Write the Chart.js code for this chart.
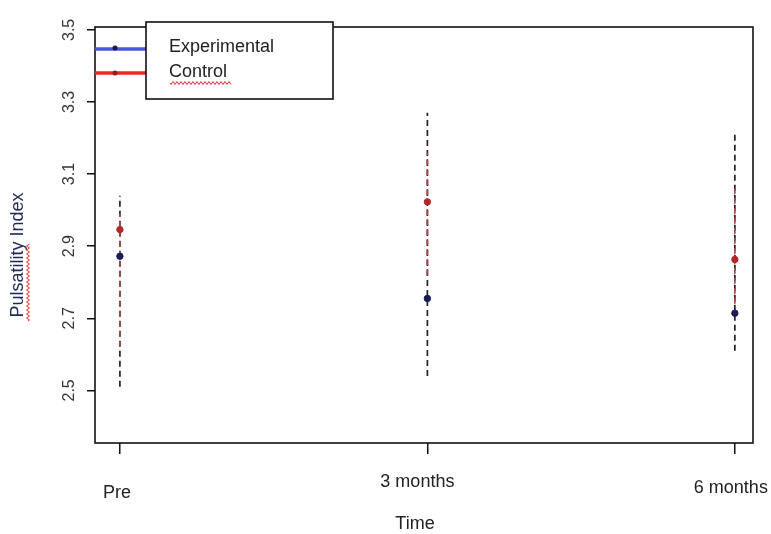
<!DOCTYPE html>
<html lang="en">
  <head>
    <meta charset="UTF-8" />
    <title>Pulsatility Index over time</title>
    <style>
      body { margin: 0; background: #fff; }
    </style>
  </head>
  <body>
    <script src="https://cdn.jsdelivr.net/npm/chart.js"></script>
    <canvas id="myChart" width="771" height="534"></canvas>
    <script>
      const timepoints = ["Pre", "3 months", "6 months"];
      const yTicks = [2.5, 2.7, 2.9, 3.1, 3.3, 3.5];

      const experimentalMean = [2.872, 2.755, 2.714];
      const experimentalLow = [2.51, 2.54, 2.61];
      const experimentalHigh = [3.04, 3.27, 3.215];

      const controlMean = [2.946, 3.023, 2.863];
      const controlLow = [2.62, 2.82, 2.74];
      const controlHigh = [2.99, 3.16, 3.06];

      const errorBars = (low, high, color, order) =>
        timepoints.map((t, i) => ({
          type: "scatter",
          label: "err",
          data: [{ x: i, y: low[i] }, { x: i, y: high[i] }],
          showLine: true,
          borderColor: color,
          borderWidth: 1.7,
          borderDash: [6, 4],
          pointRadius: 0,
          order: order,
        }));

      // red spell-check squiggle, as in the source image
      function squiggle(ctx, x0, x1, y) {
        ctx.save();
        ctx.strokeStyle = "#e03030";
        ctx.lineWidth = 1;
        ctx.beginPath();
        ctx.moveTo(x0, y);
        for (let x = x0; x < x1; x += 2) {
          ctx.lineTo(x + 1, y + ((x - x0) % 4 === 0 ? 1.5 : -1.5));
        }
        ctx.stroke();
        ctx.restore();
      }

      // R style frame, hand placed axis text and the legend box
      const frame = {
        id: "frame",
        afterDraw(chart) {
          const ctx = chart.ctx;
          const a = chart.chartArea;
          const x = chart.scales.x;
          const y = chart.scales.y;
          ctx.save();
          ctx.strokeStyle = "#111";
          ctx.lineWidth = 1.6;
          ctx.strokeRect(a.left, a.top, a.right - a.left, a.bottom - a.top);

          // y tick labels, rotated
          ctx.fillStyle = "#333";
          ctx.font = "16px 'Liberation Sans'";
          ctx.textAlign = "center";
          ctx.textBaseline = "middle";
          yTicks.forEach((v) => {
            ctx.save();
            ctx.translate(70, y.getPixelForValue(v));
            ctx.rotate(-Math.PI / 2);
            ctx.fillText(v.toFixed(1), 0, 0);
            ctx.restore();
          });

          // x tick labels, staggered as in the original
          const xOffsets = [-3, -10, -4];
          const yPos = [493, 482, 488];
          ctx.fillStyle = "#222";
          ctx.font = "18px 'Liberation Sans'";
          timepoints.forEach((t, i) => {
            ctx.fillText(t, x.getPixelForValue(i) + xOffsets[i], yPos[i]);
          });

          // axis titles
          ctx.fillText("Time", 415, 524);
          ctx.save();
          ctx.translate(18, 255);
          ctx.rotate(-Math.PI / 2);
          ctx.fillStyle = "#1f2a5a";
          ctx.fillText("Pulsatility Index", 0, 0);
          squiggle(ctx, -66, 12, 10);
          ctx.restore();

          // legend
          const lx = a.left;
          ctx.lineWidth = 3.5;
          ctx.strokeStyle = "#4a57e0";
          ctx.beginPath();
          ctx.moveTo(lx, 49);
          ctx.lineTo(147, 49);
          ctx.stroke();
          ctx.strokeStyle = "#f02626";
          ctx.beginPath();
          ctx.moveTo(lx, 73);
          ctx.lineTo(147, 73);
          ctx.stroke();
          ctx.fillStyle = "#1a1a3a";
          ctx.beginPath();
          ctx.arc(115, 48, 2.5, 0, Math.PI * 2);
          ctx.fill();
          ctx.fillStyle = "#8a2020";
          ctx.beginPath();
          ctx.arc(115, 73, 2.5, 0, Math.PI * 2);
          ctx.fill();

          ctx.fillStyle = "#fff";
          ctx.fillRect(146, 22, 187, 77);
          ctx.strokeStyle = "#111";
          ctx.lineWidth = 1.6;
          ctx.strokeRect(146, 22, 187, 77);

          ctx.fillStyle = "#222";
          ctx.font = "18px 'Liberation Sans'";
          ctx.textAlign = "left";
          ctx.fillText("Experimental", 169, 47);
          ctx.fillText("Control", 169, 72);
          squiggle(ctx, 170, 231, 83);
          ctx.restore();
        },
      };

      new Chart("myChart", {
        data: {
          datasets: [
            {
              type: "scatter",
              label: "Experimental",
              data: experimentalMean.map((v, i) => ({ x: i, y: v })),
              backgroundColor: "#1c1c55",
              borderColor: "#1c1c55",
              pointRadius: 3.2,
              order: 0,
            },
            {
              type: "scatter",
              label: "Control",
              data: controlMean.map((v, i) => ({ x: i, y: v })),
              backgroundColor: "#b0282a",
              borderColor: "#b0282a",
              pointRadius: 3.2,
              order: 0,
            },
            ...errorBars(controlLow, controlHigh, "#a84848", 1),
            ...errorBars(experimentalLow, experimentalHigh, "#222", 2),
          ],
        },
        options: {
          responsive: false,
          animation: false,
          layout: { padding: { top: 27, right: 18, left: 0, bottom: 0 } },
          plugins: {
            legend: { display: false },
            tooltip: { enabled: false },
          },
          scales: {
            x: {
              type: "linear",
              min: -0.081,
              max: 2.059,
              afterFit: (s) => { s.height = 91; },
              afterBuildTicks: (s) => {
                s.ticks = timepoints.map((t, i) => ({ value: i }));
              },
              ticks: { display: false },
              border: { display: false },
              grid: {
                drawOnChartArea: false,
                drawTicks: true,
                tickLength: 11,
                tickColor: "#111",
                lineWidth: 1.5,
              },
            },
            y: {
              min: 2.354,
              max: 3.508,
              afterFit: (s) => { s.width = 95; },
              afterBuildTicks: (s) => {
                s.ticks = yTicks.map((v) => ({ value: v }));
              },
              ticks: { display: false },
              border: { display: false },
              grid: {
                drawOnChartArea: false,
                drawTicks: true,
                tickLength: 8,
                tickColor: "#111",
                lineWidth: 1.5,
              },
            },
          },
        },
        plugins: [frame],
      });
    </script>
  </body>
</html>
